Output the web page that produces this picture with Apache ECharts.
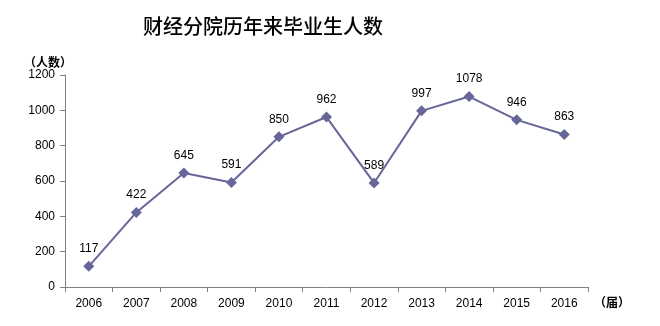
<!DOCTYPE html>
<html>
<head>
<meta charset="utf-8">
<script src="https://cdn.jsdelivr.net/npm/echarts@6/dist/echarts.min.js"></script>
<style>
  html, body { margin: 0; padding: 0; background: #fff; }
  #chart { width: 660px; height: 326px; }
</style>
</head>
<body>
<div id="chart"></div>
<script>
// Graduates per year, finance & economics school
var years = ['2006', '2007', '2008', '2009', '2010', '2011', '2012', '2013', '2014', '2015', '2016'];
var graduates = [117, 422, 645, 591, 850, 962, 589, 997, 1078, 946, 863];
var yTicks = [0, 200, 400, 600, 800, 1000, 1200];

var chart = echarts.init(document.getElementById('chart'), null, { renderer: 'canvas' });
var numFont = '"Liberation Sans", "DejaVu Sans", sans-serif';
var cjkFont = '"Noto Sans CJK SC", sans-serif';

chart.setOption({
  animation: false,
  backgroundColor: '#ffffff',
  title: {
    text: '财经分院历年来毕业生人数',
    left: 258,
    top: 11,
    textAlign: 'center',
    textStyle: { fontFamily: cjkFont, fontSize: 20, fontWeight: 500, color: '#000' }
  },
  grid: { left: 65, right: 72, top: 75, bottom: 39, containLabel: false },
  xAxis: {
    type: 'category',
    data: years,
    boundaryGap: true,
    axisLine: { lineStyle: { color: '#808080', width: 1 } },
    axisTick: { show: true, alignWithLabel: false, length: 5, lineStyle: { color: '#808080' } },
    axisLabel: { color: '#000', fontFamily: numFont, fontSize: 12, margin: 11 }
  },
  yAxis: {
    type: 'value',
    min: yTicks[0],
    max: yTicks[yTicks.length - 1],
    interval: 200,
    splitLine: { show: false },
    axisLine: { show: true, lineStyle: { color: '#808080', width: 1 } },
    axisTick: { show: true, length: 5, lineStyle: { color: '#808080' } },
    axisLabel: {
      color: '#000', fontFamily: numFont, fontSize: 12, margin: 10,
      formatter: function (v) { return String(v); }
    }
  },
  graphic: [
    {
      type: 'text', left: 24, top: 56,
      style: { text: '（人数）', fontFamily: cjkFont, fontSize: 12, fontWeight: 'bold', fill: '#000' }
    },
    {
      type: 'text', left: 594, top: 296,
      style: { text: '（届）', fontFamily: cjkFont, fontSize: 12, fontWeight: 'bold', fill: '#000' }
    }
  ],
  series: [{
    type: 'line',
    data: graduates,
    symbol: 'diamond',
    symbolSize: 11,
    lineStyle: { color: '#666699', width: 2 },
    itemStyle: { color: '#666699' },
    label: {
      show: true,
      position: 'top',
      distance: 6,
      color: '#000',
      fontFamily: numFont,
      fontSize: 12
    }
  }]
});
</script>
</body>
</html>
